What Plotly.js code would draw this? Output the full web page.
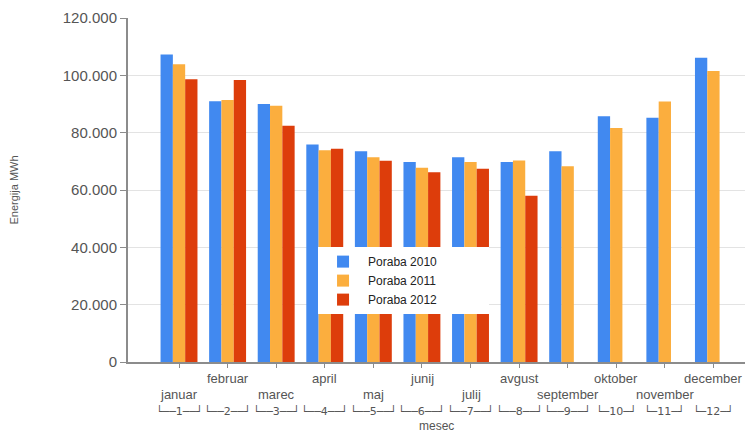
<!DOCTYPE html>
<html>
<head>
<meta charset="utf-8">
<script src="https://cdn.plot.ly/plotly-3.0.1.min.js"></script>
<style>html,body{margin:0;padding:0;background:#fff;}#chart{width:745px;height:434px;}</style>
</head>
<body>
<div id="chart"></div>
<script>
var months = ["januar","februar","marec","april","maj","junij","julij","avgust","september","oktober","november","december"];
var monthNums = ["1","2","3","4","5","6","7","8","9","10","11","12"];
var poraba2010 = [107300, 91000, 90000, 75900, 73500, 69800, 71400, 69800, 73500, 85700, 85200, 106100];
var poraba2011 = [103900, 91400, 89400, 73900, 71400, 67800, 69800, 70300, 68300, 81600, 90900, 101500];
var poraba2012 = [98600, 98400, 82400, 74400, 70200, 66200, 67400, 58000, null, null, null, null];
var seriesNames = ["Poraba 2010","Poraba 2011","Poraba 2012"];
var colors = ["#4189f0","#fbae3e","#dd3d0b"];
var yTicks = [0, 20000, 40000, 60000, 80000, 100000, 120000];

var PAD = "\u00a0".repeat(14);
var allSeries = [poraba2010, poraba2011, poraba2012];
var traces = allSeries.map(function(vals, i){
  return {type:"bar", x: months, y: vals, name: seriesNames[i] + PAD,
          marker:{color: colors[i]}, hovertemplate: seriesNames[i] + ": %{y}<extra></extra>"};
});

var FONT = "Liberation Sans, Arial, sans-serif";
var annotations = [];
months.forEach(function(m, i){
  var upper = (i % 2 === 1);
  annotations.push({xref:"x", yref:"paper", x: m, y: 0, yanchor:"middle", showarrow:false,
    yshift: upper ? -16 : -32, text: m, font:{family:FONT, size:13, color:"#555"}});
  var n = monthNums[i];
  var br = n.length === 1 ? "\u2514\u2500\u2500" + n + "\u2500\u2500\u2518" : "\u2514\u2500" + n + "\u2500\u2518";
  annotations.push({xref:"x", yref:"paper", x: m, y: 0, yanchor:"middle", showarrow:false,
    yshift: -49, text: br, font:{family:"DejaVu Sans, sans-serif", size:11, color:"#555"}});
});
annotations.push({xref:"paper", yref:"paper", x:0.5, y:0, yanchor:"middle", showarrow:false,
  yshift:-64, text:"mesec", font:{family:FONT, size:12, color:"#555"}});

var layout = {
  width:745, height:434,
  margin:{l:128, r:0, t:18, b:72},
  paper_bgcolor:"#fff", plot_bgcolor:"#fff",
  separators:",.",
  bargap:0.24, bargroupgap:0,
  showlegend:true,
  legend:{x:0.308, y:0.334, xanchor:"left", yanchor:"top", bgcolor:"#fff", borderwidth:0,
          font:{family:FONT, size:12, color:"#222"},
          tracegroupgap:0, itemwidth:40},
  xaxis:{type:"category", range:[-1.05, 11.65], showgrid:false, showline:true, linecolor:"#8c8c8c", linewidth:2,
         ticks:"outside", ticklen:4, tickcolor:"#8c8c8c", tickwidth:1, showticklabels:false, zeroline:false,
         fixedrange:true},
  yaxis:{range:[0,120000], tickvals:yTicks, tickformat:",d", showgrid:true, gridcolor:"#e3e3e3", gridwidth:1,
         showline:true, linecolor:"#8c8c8c", linewidth:2, ticks:"outside", ticklen:6, tickcolor:"#8c8c8c",
         zeroline:false, tickfont:{family:FONT, size:15, color:"#555"},
         title:{text:"Energija MWh", font:{family:FONT, size:11, color:"#555"}, standoff:42},
         automargin:false, fixedrange:true},
  annotations: annotations
};

Plotly.newPlot("chart", traces, layout, {displayModeBar:false, staticPlot:true});
</script>
</body>
</html>
